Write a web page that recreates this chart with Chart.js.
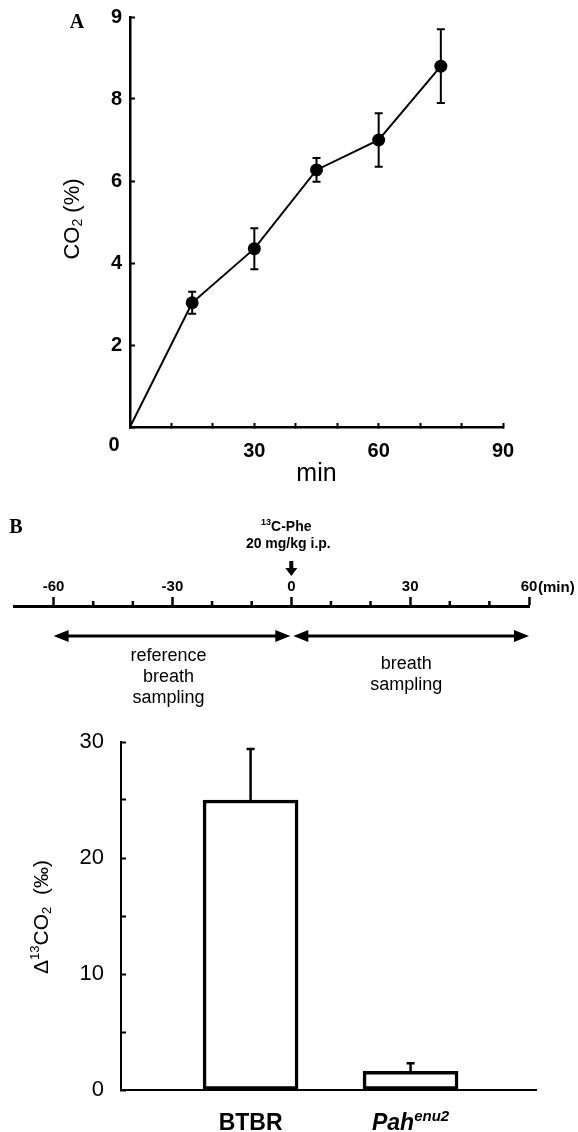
<!DOCTYPE html>
<html>
<head>
<meta charset="utf-8">
<script src="https://cdn.jsdelivr.net/npm/chart.js@4.4.1/dist/chart.umd.min.js"></script>
<style>
    html, body { margin: 0; padding: 0; background: #fff; }
    #wrap { position: relative; width: 578px; height: 1132px; }
    canvas { position: absolute; left: 0; }
</style>
</head>
<body>
<div id="wrap">
    <canvas id="chartA" width="578" height="490" style="top:0"></canvas>
    <canvas id="timeline" width="578" height="230" style="top:490px"></canvas>
    <canvas id="chartB" width="578" height="412" style="top:720px"></canvas>
</div>
<script>
// --- DONNÉES ---

// Panel A : CO2 (%) selon le temps (min)
const minutes = [0, 15, 30, 45, 60, 75];
const co2 = [0, 3.03, 4.35, 6.27, 7.0, 8.8];
const co2Err = [0, 0.27, 0.5, 0.29, 0.65, 0.9];
const minTickLabels = [30, 60, 90];
const co2Ticks = [0, 2, 4, 6, 8, 10];
const co2TickLabels = ['0', '2', '4', '6', '8', '9'];

// Panel B : protocole de prélèvement
const timelineMajor = [-60, -30, 0, 30, 60];
const samplingSpans = [[-60, 0], [0, 60]];
const samplingText = [['reference', 'breath', 'sampling'], ['breath', 'sampling']];

// Panel B : delta 13CO2 par souche
const groups = ['BTBR', 'Pah'];
const groupSup = ['', 'enu2'];
const delta13 = [25, 1.6];
const delta13Err = [4.4, 0.7];
const deltaTickLabels = [0, 10, 20, 30];

const FONT = "'Liberation Sans', Arial, Helvetica, sans-serif";
const SERIF = "'Liberation Serif', 'Times New Roman', serif";
Chart.defaults.font.family = FONT;
Chart.defaults.color = '#000';

// texte composé (indices / exposants)
function drawParts(ctx, parts, x, y) {
    let w = 0;
    parts.forEach(p => { ctx.font = p.font; p.w = ctx.measureText(p.t).width; w += p.w; });
    let cx = x - w / 2;
    ctx.textAlign = 'left';
    parts.forEach(p => { ctx.font = p.font; ctx.fillText(p.t, cx, y + (p.dy || 0)); cx += p.w; });
}

function drawRotated(ctx, parts, x, y) {
    ctx.save();
    ctx.translate(x, y);
    ctx.rotate(-Math.PI / 2);
    ctx.textBaseline = 'middle';
    drawParts(ctx, parts, 0, 0);
    ctx.restore();
}

// axe vertical : largeur fixe, sans marge ajoutée par les étiquettes
function fixY(width) {
    return s => { s.width = width; s.paddingTop = 0; s.paddingBottom = 0; };
}

// --- PANEL A ---

const panelAExtras = {
    id: 'panelAExtras',
    afterDatasetsDraw(chart) {
        const { ctx, scales: { x, y } } = chart;
        ctx.save();
        ctx.strokeStyle = '#000';
        ctx.lineWidth = 2;
        co2Err.forEach((e, i) => {
            if (!e) return;
            const px = x.getPixelForValue(minutes[i]);
            const top = y.getPixelForValue(co2[i] + e);
            const bot = y.getPixelForValue(co2[i] - e);
            ctx.beginPath();
            ctx.moveTo(px, top); ctx.lineTo(px, bot);
            ctx.moveTo(px - 4, top); ctx.lineTo(px + 4, top);
            ctx.moveTo(px - 4, bot); ctx.lineTo(px + 4, bot);
            ctx.stroke();
        });
        ctx.restore();
    },
    afterDraw(chart) {
        const { ctx, scales: { x, y } } = chart;
        ctx.save();
        ctx.fillStyle = '#000';
        ctx.textBaseline = 'middle';
        ctx.textAlign = 'center';
        ctx.font = 'bold 20px ' + FONT;
        ctx.fillText(co2TickLabels[0], x.getPixelForValue(0) - 16, y.getPixelForValue(0) + 18);
        ctx.font = 'bold 20px ' + SERIF;
        ctx.fillText('A', 77, 23);
        drawRotated(ctx, [
            { t: 'CO', font: '22px ' + FONT },
            { t: '2', font: '14px ' + FONT, dy: 5 },
            { t: ' (%)', font: '22px ' + FONT }
        ], 73, 219);
        ctx.restore();
    }
};

new Chart(document.getElementById('chartA'), {
    type: 'scatter',
    data: {
        datasets: [{
            data: minutes.map((m, i) => ({ x: m, y: co2[i] })),
            showLine: true,
            borderColor: '#000',
            borderWidth: 2,
            backgroundColor: '#000',
            pointBackgroundColor: '#000',
            pointBorderWidth: 0,
            pointRadius: c => c.dataIndex === 0 ? 0 : 6.5
        }]
    },
    options: {
        responsive: false,
        animation: false,
        layout: { padding: { top: 17, right: 75, bottom: 0, left: 0 } },
        plugins: { legend: { display: false }, tooltip: { enabled: false } },
        scales: {
            x: {
                type: 'linear', min: 0, max: 90,
                ticks: {
                    stepSize: 10, autoSkip: false, maxRotation: 0, padding: 16,
                    font: { size: 20, weight: 'bold' }, color: '#000',
                    callback: v => minTickLabels.includes(v) ? String(v) : ''
                },
                grid: { drawOnChartArea: false, tickLength: -4, tickWidth: 2, tickColor: '#000' },
                border: { color: '#000', width: 2.5 },
                title: { display: true, text: 'min', font: { size: 25 }, color: '#000', padding: { top: 0, bottom: 1 } },
                afterFit: s => { s.height = 63; }
            },
            y: {
                min: 0, max: 10,
                ticks: {
                    stepSize: 2, autoSkip: false, padding: 13,
                    font: { size: 20, weight: 'bold' }, color: '#000',
                    callback: v => { const i = co2Ticks.indexOf(v); return i > 0 ? co2TickLabels[i] : ''; }
                },
                grid: { drawOnChartArea: false, tickLength: -5, tickWidth: 2, tickColor: '#000' },
                border: { color: '#000', width: 2.5 },
                afterFit: fixY(130)
            }
        }
    },
    plugins: [panelAExtras]
});

// --- PANEL B : LIGNE DE TEMPS ---

function arrowHead(ctx, tipX, y, dir) {
    ctx.beginPath();
    ctx.moveTo(tipX, y);
    ctx.lineTo(tipX - dir * 15, y - 6);
    ctx.lineTo(tipX - dir * 15, y + 6);
    ctx.closePath();
    ctx.fill();
}

const timelineExtras = {
    id: 'timelineExtras',
    afterDraw(chart) {
        const { ctx, chartArea, scales: { x } } = chart;
        const axisY = x.bottom;
        ctx.save();
        ctx.strokeStyle = '#000';
        ctx.fillStyle = '#000';

        // petites graduations
        ctx.lineWidth = 2.5;
        ctx.beginPath();
        x.ticks.forEach(t => {
            if (timelineMajor.includes(t.value)) return;
            const px = x.getPixelForValue(t.value);
            ctx.moveTo(px, axisY);
            ctx.lineTo(px, axisY - 5);
        });
        ctx.stroke();

        ctx.textBaseline = 'middle';
        ctx.textAlign = 'left';
        ctx.font = 'bold 15px ' + FONT;
        ctx.fillText('(min)', x.getPixelForValue(60) + 9, axisY - 18);

        // injection
        const x0 = x.getPixelForValue(0);
        drawParts(ctx, [
            { t: '13', font: 'bold 9px ' + FONT, dy: -4 },
            { t: 'C-Phe', font: 'bold 14px ' + FONT }
        ], x0 - 5, 37);
        drawParts(ctx, [{ t: '20 mg/kg i.p.', font: 'bold 14px ' + FONT }], x0 - 3, 54);
        ctx.fillRect(x0 - 2, 71, 4, 8);
        ctx.beginPath();
        ctx.moveTo(x0 - 6, 78); ctx.lineTo(x0 + 6, 78); ctx.lineTo(x0, 86);
        ctx.closePath();
        ctx.fill();

        // flèches de prélèvement
        const ay = chartArea.top + 30;
        ctx.lineWidth = 3;
        samplingSpans.forEach((span, k) => {
            const a = x.getPixelForValue(span[0]) + (k === 1 ? 2 : 0);
            const b = x.getPixelForValue(span[1]) - (k === 0 ? 1 : 0);
            ctx.beginPath();
            ctx.moveTo(a + 5, ay); ctx.lineTo(b - 5, ay);
            ctx.stroke();
            arrowHead(ctx, a, ay, -1);
            arrowHead(ctx, b, ay, 1);
            const mid = (x.getPixelForValue(span[0]) + x.getPixelForValue(span[1])) / 2;
            const lines = samplingText[k];
            const startY = lines.length === 3 ? ay + 20 : ay + 28;
            lines.forEach((line, j) => {
                drawParts(ctx, [{ t: line, font: '18px ' + FONT }], mid - 4, startY + j * 21);
            });
        });

        ctx.font = 'bold 20px ' + SERIF;
        ctx.textAlign = 'center';
        ctx.fillText('B', 16, 38);
        ctx.restore();
    }
};

new Chart(document.getElementById('timeline'), {
    type: 'scatter',
    data: { datasets: [] },
    options: {
        responsive: false,
        animation: false,
        layout: { padding: { top: 0, right: 49, bottom: 0, left: 14 } },
        plugins: { legend: { display: false }, tooltip: { enabled: false } },
        scales: {
            x: {
                type: 'linear', position: 'top', min: -70, max: 60,
                afterBuildTicks: s => { s.ticks = s.ticks.filter(t => t.value >= -60); },
                ticks: {
                    stepSize: 10, autoSkip: false, maxRotation: 0, padding: 1,
                    font: { size: 15, weight: 'bold' }, color: '#000',
                    callback: v => timelineMajor.includes(v) ? String(v) : ''
                },
                grid: {
                    drawOnChartArea: false, tickLength: 9, tickWidth: 2.5,
                    tickColor: c => (c.tick && timelineMajor.includes(c.tick.value)) ? '#000' : 'rgba(0,0,0,0)'
                },
                border: { color: '#000', width: 3 },
                afterFit: s => { s.height = 116; }
            },
            y: { display: false, min: 0, max: 1 }
        }
    },
    plugins: [timelineExtras]
});

// --- PANEL B : BARRES ---

const barExtras = {
    id: 'barExtras',
    afterDatasetsDraw(chart) {
        const { ctx, scales: { x, y } } = chart;
        ctx.save();
        ctx.strokeStyle = '#000';
        ctx.lineWidth = 2.5;
        delta13.forEach((v, i) => {
            const px = x.getPixelForValue(i + 1);
            const top = y.getPixelForValue(v + delta13Err[i]);
            ctx.beginPath();
            ctx.moveTo(px, y.getPixelForValue(v));
            ctx.lineTo(px, top);
            ctx.moveTo(px - 4, top); ctx.lineTo(px + 4, top);
            ctx.stroke();
        });
        ctx.restore();
    },
    afterDraw(chart) {
        const { ctx, scales: { x } } = chart;
        ctx.save();
        ctx.fillStyle = '#000';
        ctx.textBaseline = 'alphabetic';
        groups.forEach((g, i) => {
            const px = x.getPixelForValue(i + 1);
            if (groupSup[i]) {
                drawParts(ctx, [
                    { t: g, font: 'italic bold 23px ' + FONT },
                    { t: groupSup[i], font: 'italic bold 15px ' + FONT, dy: -9 }
                ], px, 410);
            } else {
                drawParts(ctx, [{ t: g, font: 'bold 23px ' + FONT }], px, 410);
            }
        });
        drawRotated(ctx, [
            { t: '\u0394', font: '21px ' + FONT },
            { t: '13', font: '13px ' + FONT, dy: -7 },
            { t: 'CO', font: '21px ' + FONT },
            { t: '2', font: '13px ' + FONT, dy: 5 },
            { t: '  (\u2030)', font: '21px ' + FONT }
        ], 42, 197);
        ctx.restore();
    }
};

new Chart(document.getElementById('chartB'), {
    type: 'bar',
    data: {
        datasets: [{
            data: groups.map((g, i) => ({ x: i + 1, y: delta13[i] })),
            backgroundColor: '#fff',
            borderColor: '#000',
            borderWidth: 3.5,
            borderSkipped: false,
            barThickness: 95
        }]
    },
    options: {
        responsive: false,
        animation: false,
        layout: { padding: { top: 22, right: 42, bottom: 0, left: 0 } },
        plugins: { legend: { display: false }, tooltip: { enabled: false } },
        scales: {
            x: {
                type: 'linear', min: 0.19, max: 2.784, offset: false,
                ticks: { display: false },
                grid: { display: false },
                border: { color: '#000', width: 2 },
                afterFit: s => { s.height = 42; }
            },
            y: {
                min: 0, max: 30,
                ticks: {
                    stepSize: 5, autoSkip: false, padding: 22,
                    font: { size: 22 }, color: '#000',
                    callback: v => deltaTickLabels.includes(v) ? String(v) : ''
                },
                grid: { drawOnChartArea: false, tickLength: -5, tickWidth: 2, tickColor: '#000' },
                border: { color: '#000', width: 2 },
                afterFit: fixY(121)
            }
        }
    },
    plugins: [barExtras]
});
</script>
</body>
</html>
